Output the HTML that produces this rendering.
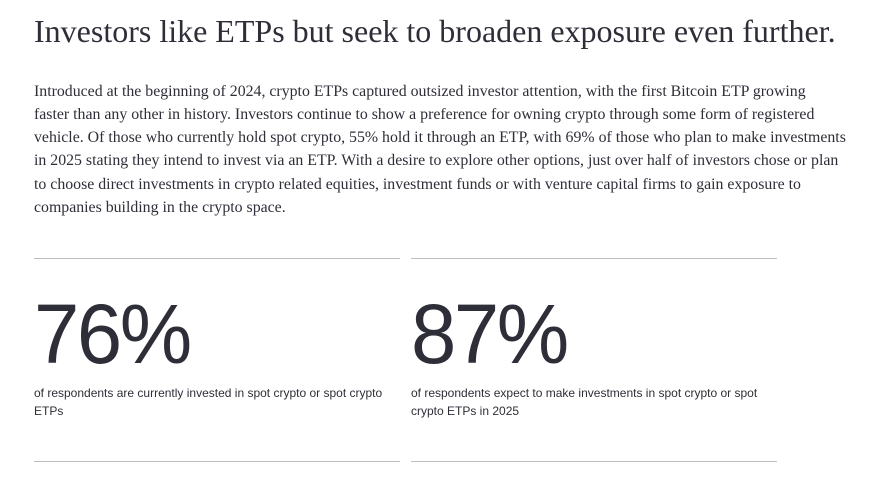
<!DOCTYPE html>
<html><head><style>
body{margin:0;width:877px;height:482px;background:#fff;position:relative;overflow:hidden;color:#2e2e38}
.t{position:absolute;left:34px;top:13px;font-family:"Liberation Serif",serif;font-size:32px;white-space:nowrap;color:#2e2e38}
.p{position:absolute;left:34px;font-family:"Liberation Serif",serif;font-size:15.85px;white-space:nowrap;color:#2e2e38}
.hr{position:absolute;height:1px;background:#bdbdc2;width:366px}
.n{position:absolute;top:292px;font-family:"Liberation Sans",sans-serif;font-weight:300;font-size:84px;letter-spacing:-2.5px;color:#2e2e38;line-height:1;transform:scaleX(0.97);transform-origin:left}
.c{position:absolute;top:384px;font-family:"Liberation Sans",sans-serif;font-size:12px;line-height:18px;color:#2e2e38;width:370px}
</style></head><body>
<div class="t">Investors like ETPs but seek to broaden exposure even further.</div>
<div class="p" style="top:83px">Introduced at the beginning of 2024, crypto ETPs captured outsized investor attention, with the first Bitcoin ETP growing</div>
<div class="p" style="top:106px">faster than any other in history. Investors continue to show a preference for owning crypto through some form of registered</div>
<div class="p" style="top:129px">vehicle. Of those who currently hold spot crypto, 55% hold it through an ETP, with 69% of those who plan to make investments</div>
<div class="p" style="top:152px">in 2025 stating they intend to invest via an ETP. With a desire to explore other options, just over half of investors chose or plan</div>
<div class="p" style="top:176px">to choose direct investments in crypto related equities, investment funds or with venture capital firms to gain exposure to</div>
<div class="p" style="top:199px">companies building in the crypto space.</div>
<div class="hr" style="left:34px;top:258px"></div>
<div class="hr" style="left:411px;top:258px"></div>
<div class="hr" style="left:34px;top:461px"></div>
<div class="hr" style="left:411px;top:461px"></div>
<div class="n" style="left:34px">76%</div>
<div class="n" style="left:411px">87%</div>
<div class="c" style="left:34px">of respondents are currently invested in spot crypto or spot crypto ETPs</div>
<div class="c" style="left:411px">of respondents expect to make investments in spot crypto or spot crypto ETPs in 2025</div>
</body></html>
